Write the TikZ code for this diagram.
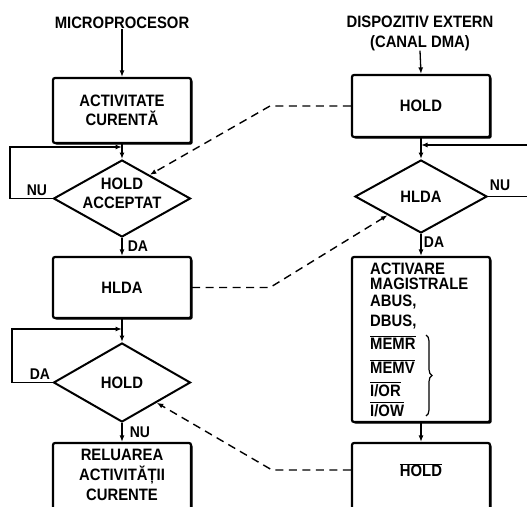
\documentclass[tikz,border=0pt]{standalone}
\usepackage{fontspec}
\setmainfont{Liberation Sans}[FakeStretch=0.9]
\usetikzlibrary{shapes.geometric,arrows.meta,shadows,decorations.pathreplacing,calc}
\newcommand\myovl[1]{$\overline{\hbox{#1}}$}
\begin{document}
\begin{tikzpicture}[x=1pt,y=-1pt,
  every node/.style={font=\fontsize{16.5}{19}\selectfont\bfseries, inner sep=0pt},
  box/.style={draw, line width=2.2pt, fill=white, rounded corners=2pt, minimum width=138pt,
    drop shadow={shadow xshift=1.6pt, shadow yshift=-1.6pt, opacity=1, fill=black}, align=center},
  dia/.style={draw, diamond, line width=2pt, fill=white},
  conn/.style={line width=1.3pt},
  arr/.style={conn, -{Latex[length=6.5pt,width=5pt]}},
  dashconn/.style={line width=1.4pt, dash pattern=on 8pt off 5.5pt, -{Latex[length=6.5pt,width=5pt]}},
  lbl/.style={font=\fontsize{15.5}{17}\selectfont\bfseries},
  btxt/.style={anchor=base west}
]
\useasboundingbox (0,0) rectangle (527,506);
\clip (0,0) rectangle (527,506);

% left column
\node (mp) at (122,23) {MICROPROCESOR};
\node[box, minimum height=65pt] (act) at (122,110.5) {ACTIVITATE\\CURENTĂ};
\node[dia, minimum width=137pt, minimum height=77pt] (ha) at (122,198.5) {};
\node[align=center] (hat) at (122,193) {HOLD\\ACCEPTAT};
\node[box, minimum height=61pt] (hlda) at (122,287.5) {HLDA};
\node[dia, minimum width=137pt, minimum height=79pt] (hd) at (122,382.5) {};
\node (hdt) at (122,383) {HOLD};
\node[box, minimum height=66pt] (rel) at (122,476) {};
\node[align=center, font=\fontsize{16.5}{20}\selectfont\bfseries] (relt) at (122,475) {RELUAREA\\ACTIVITĂȚII\\CURENTE};

% right column
\node[align=center, font=\fontsize{16.5}{20}\selectfont\bfseries] (ext) at (420,33) {DISPOZITIV EXTERN\\(CANAL DMA)};
\node[box, minimum height=62pt] (hold) at (421,106) {HOLD};
\node[dia, minimum width=132pt, minimum height=73pt] (hldad) at (421,196.5) {};
\node (hldadt) at (421,197) {HLDA};
\node[box, minimum height=165pt] (actv) at (421,339.5) {};
\node[btxt] (t1) at (370,274) {ACTIVARE};
\node[btxt] (t2) at (370,289) {MAGISTRALE};
\node[btxt] (t3) at (370,306) {ABUS,};
\node[btxt] (t4) at (370,326) {DBUS,};
\node[btxt] (t5) at (370,349) {\myovl{MEMR}};
\node[btxt] (t6) at (370,373) {\myovl{MEMV}};
\node[btxt] (t7) at (370,396) {\myovl{I/OR}};
\node[btxt] (t8) at (370,416) {\myovl{I/OW}};
\coordinate (br1) at (426,335);
\coordinate (br2) at (426,416);
\draw[line width=1.2pt, decorate, decoration={brace, amplitude=6pt}] (br1) -- (br2);
\node[box, minimum height=66pt] (holdn) at (421,476) {};
\node (holdnt) at (421,470) {\myovl{HOLD}};

% connectors left
\draw[arr] (mp.south) -- (act.north);
\coordinate (j1) at (122,147);
\coordinate (l1) at (10,147);
\draw[arr] (act.south) -- (ha.north);
\draw[arr] (ha.west) -| (l1) -- (j1);
\node[lbl] (nu1) at (37,190) {NU};
\draw[arr] (ha.south) -- (hlda.north);
\node[lbl] (da1) at (138,246) {DA};
\draw[arr] (hlda.south) -- (hd.north);
\coordinate (j2) at (122,329);
\coordinate (l2) at (12,329);
\draw[arr] (hd.west) -| (l2) -- (j2);
\node[lbl] (da2) at (40,374) {DA};
\draw[arr] (hd.south) -- (rel.north);
\node[lbl] (nu2) at (140,432) {NU};

% connectors right
\draw[arr] (ext.south) -- (hold.north);
\draw[arr] (hold.south) -- (hldad.north);
\coordinate (j3) at (421,145);
\coordinate (r3) at (530,145);
\draw[arr] (hldad.east) -| (r3) -- (j3);
\node[lbl] (nu3) at (500,185) {NU};
\node[lbl] (da3) at (434,242) {DA};
\draw[arr] (hldad.south) -- (actv.north);
\draw[arr] (actv.south) -- (holdn.north);

% dashed
\coordinate (d1) at (270,106);
\draw[dashconn] (hold.west) -- (d1) -- ($(ha.north)!0.4!(ha.east)$);
\coordinate (d2) at (270,287.5);
\draw[dashconn] (hlda.east) -- (d2) -- ($(hldad.west)!0.5!(hldad.south)$);
\coordinate (d3) at (272,470);
\draw[dashconn] ([yshift=6pt]holdn.west) -- (d3) -- ($(hd.east)!0.5!(hd.south)$);
\end{tikzpicture}
\end{document}
